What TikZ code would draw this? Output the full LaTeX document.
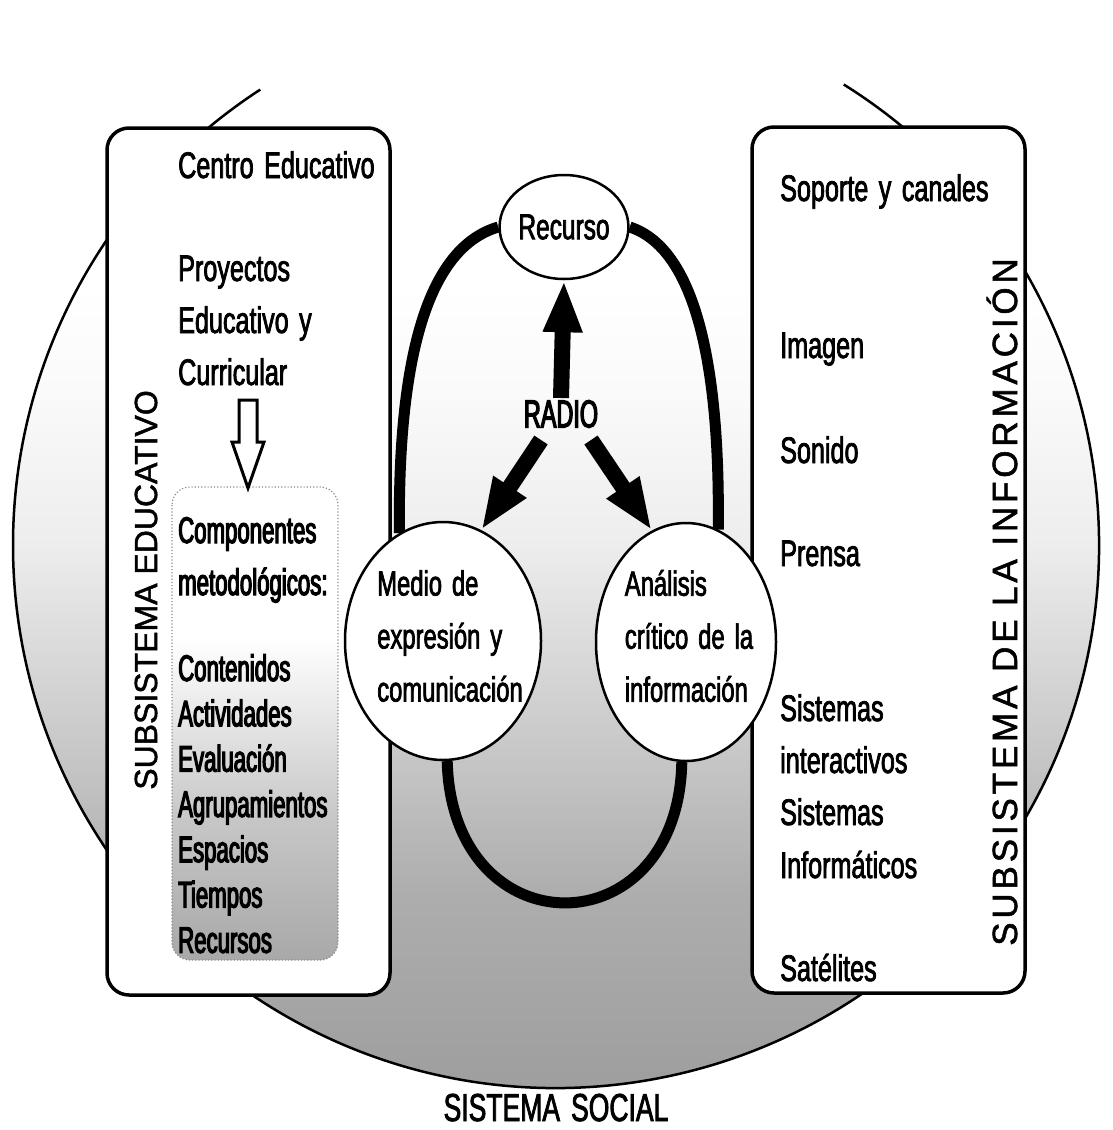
\documentclass[tikz,border=0pt]{standalone}
\usepackage{fontspec}
\setmainfont{Liberation Sans}[FakeStretch=0.68,WordSpace=1.5,FakeBold=2]
\newfontfamily\listfont{Liberation Sans}[FakeStretch=0.6,FakeBold=3.2]
\newfontfamily\capsfont{Liberation Sans}[FakeBold=1.5]
\newfontfamily\spacedfont{Liberation Sans}[LetterSpace=11,FakeBold=1.5]
\usetikzlibrary{shapes.geometric,arrows.meta,calc}
\pgfdeclarelayer{bg}
\pgfdeclarelayer{mid}
\pgfsetlayers{bg,mid,main}
\pgfdeclareverticalshading{social}{100bp}{color(0bp)=(black!38); color(25bp)=(black!38); color(34bp)=(black!32); color(43bp)=(black!18); color(50bp)=(black!7); color(57bp)=(black!2); color(62bp)=(white); color(100bp)=(white)}
\pgfdeclareverticalshading{metodos}{100bp}{color(0bp)=(black!34); color(25bp)=(black!34); color(40bp)=(black!22); color(59bp)=(white); color(100bp)=(white)}

\begin{document}
\begin{tikzpicture}[x=1pt,y=-1pt,
	txt/.style={anchor=base west,inner sep=0,font=\fontsize{37}{44}\selectfont},
	lst/.style={anchor=base west,inner sep=0,font=\listfont\fontsize{37}{44}\selectfont},
	bubble/.style={draw,ellipse,fill=white,line width=2.5pt,inner sep=0},
	band/.style={line width=11pt},
	fat/.style={line width=16pt,-{Triangle[length=52pt,width=36pt]}},
	panel/.style={draw,fill=white,line width=3.5pt,rounded corners=22pt}]
	\useasboundingbox (0,0) rectangle (1112,1130);
	\begin{pgfonlayer}{bg}
		\coordinate (c) at (556,545);
		\shade[shading=social] (c) circle[radius=543];
		\draw[line width=2.5pt] (c) ++(-58:543) arc[start angle=-58,end angle=237,radius=543];
		\draw[panel] (107,128) rectangle (390,995);
		\draw[panel] (752,127) rectangle (1025,993);
		\shade[shading=metodos,rounded corners=18pt] (172,487) rectangle (338,960);
		\draw[dotted,black!45,line width=1.2pt,rounded corners=18pt] (172,487) rectangle (338,960);
	\end{pgfonlayer}

	\node[txt] (centro) at (178,178) {Centro Educativo};
	\node[txt] (proy) at (178,281) {Proyectos};
	\node[txt] (educ) at (178,333) {Educativo y};
	\node[txt] (curr) at (178,385) {Curricular};
	\draw[line width=3pt,fill=white] (248,400) -- ++(9,0) -- ++(0,42) -- ++(7,0) -- (248,488) -- ++(-16,-46) -- ++(7,0) -- ++(0,-42) -- cycle;
	\node[lst] (comp) at (178,543) {Componentes};
	\node[lst] (metod) at (178,595) {metodológicos:};
	\foreach \t [count=\i] in {Contenidos,Actividades,Evaluación,Agrupamientos,Espacios,Tiempos,Recursos}
		\node[lst] (m\i) at (178,{681+45.3*(\i-1)}) {\t};
	\node[rotate=90,font=\capsfont\fontsize{32}{38}\selectfont] (subedu) at (146,590) {SUBSISTEMA EDUCATIVO};

	\node[txt] (sop) at (780,201) {Soporte y canales};
	\node[txt] (img) at (780,358) {Imagen};
	\node[txt] (son) at (780,463) {Sonido};
	\node[txt] (pren) at (780,566) {Prensa};
	\node[txt] (sis1) at (780,721) {Sistemas};
	\node[txt] (inter) at (780,773) {interactivos};
	\node[txt] (sis2) at (780,825) {Sistemas};
	\node[txt] (infor) at (780,878) {Informáticos};
	\node[txt] (sat) at (780,981) {Satélites};
	\node[rotate=90,font=\spacedfont\fontsize{35}{40}\selectfont] (subinf) at (1002,602) {SUBSISTEMA DE LA INFORMACIÓN};

	\node[bubble,minimum width=126pt,minimum height=104pt,font=\fontsize{36}{44}\selectfont] (rec) at (564,227) {Recurso};
	\node[bubble,minimum width=196pt,minimum height=238pt] (medio) at (443,641) {};
	\node[bubble,minimum width=180pt,minimum height=238pt] (anal) at (686,642) {};
	\node[align=left,inner sep=0,font=\fontsize{35}{53}\selectfont] (mediot) at (450,636) {Medio de\\expresión y\\comunicación};
	\node[align=left,inner sep=0,font=\fontsize{35}{53}\selectfont] (analt) at (689,636) {Análisis\\crítico de la\\información};
	\node[inner sep=2pt,font=\listfont\fontsize{39}{44}\selectfont] (radio) at (561,414) {RADIO};

	\begin{pgfonlayer}{mid}
		\draw[band] (rec.west) .. controls (420,250) and (398,380) .. (medio.112);
		\draw[band] (rec.east) .. controls (700,250) and (720,380) .. (anal.74);
		\draw[band] (medio.272) .. controls (452,950) and (678,950) .. (anal.268);
	\end{pgfonlayer}
	\draw[fat] (radio.north) -- (rec.south);
	\draw[fat] ($(radio.south)+(-20,10)$) -- (medio.71);
	\draw[fat] ($(radio.south)+(30,10)$) -- (anal.107);

	\node[anchor=base,inner sep=0,font=\fontsize{39}{44}\selectfont] (social) at (556,1121) {SISTEMA SOCIAL};
\end{tikzpicture}
\end{document}
